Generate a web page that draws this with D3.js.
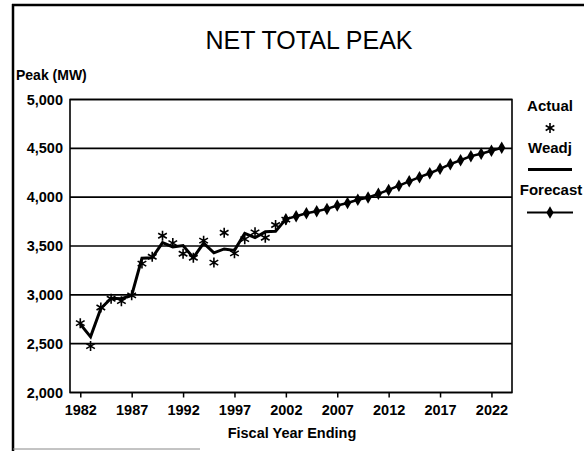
<!DOCTYPE html>
<html>
<head>
<meta charset="utf-8">
<script src="https://cdn.jsdelivr.net/npm/d3@7"></script>
<style>
  body { margin: 0; background: #fff; }
  text { font-family: "Liberation Sans", Arial, sans-serif; fill: #000; }
</style>
</head>
<body>
<div id="chartContainer"></div>
<script>
// weather adjusted history
let weadjYears = [1982, 1983, 1984, 1985, 1986, 1987, 1988, 1989, 1990, 1991, 1992,
	1993, 1994, 1995, 1996, 1997, 1998, 1999, 2000, 2001, 2002];
let weadjPeak = [2700, 2570, 2860, 2965, 2960, 2995, 3375, 3380, 3535, 3490, 3505,
	3380, 3530, 3430, 3470, 3455, 3630, 3585, 3645, 3650, 3775];

// actual peaks (asterisks)
let actualYears = weadjYears;
let actualPeak = [2710, 2475, 2870, 2960, 2935, 2995, 3320, 3390, 3605, 3530, 3420,
	3380, 3555, 3330, 3635, 3425, 3570, 3640, 3585, 3715, 3770];

// forecast
let forecastYears = [2002, 2003, 2004, 2005, 2006, 2007, 2008, 2009, 2010, 2011, 2012,
	2013, 2014, 2015, 2016, 2017, 2018, 2019, 2020, 2021, 2022, 2023];
let forecastPeak = [3775, 3805, 3835, 3855, 3880, 3915, 3940, 3973, 3997, 4034, 4074,
	4118, 4162, 4205, 4245, 4290, 4338, 4378, 4420, 4445, 4476, 4505];

let yTicks = [2000, 2500, 3000, 3500, 4000, 4500, 5000];
let xTicks = [1982, 1987, 1992, 1997, 2002, 2007, 2012, 2017, 2022];

function drawChart(){

	let svg = d3.select("#chartContainer")
		.append("svg")
		.attr("width", 584)
		.attr("height", 451);

	// scanned page frame
	svg.append("line").attr("x1", 13).attr("x2", 13).attr("y1", 4).attr("y2", 451)
		.attr("stroke", "#000").attr("stroke-width", 2.5);
	svg.append("line").attr("x1", 12).attr("x2", 584).attr("y1", 5).attr("y2", 5)
		.attr("stroke", "#000").attr("stroke-width", 2.5);
	svg.append("line").attr("x1", 13).attr("x2", 200).attr("y1", 449).attr("y2", 449)
		.attr("stroke", "#888").attr("stroke-width", 1);

	let x = d3.scaleLinear().domain([1981, 2024]).range([70, 512]);
	let y = d3.scaleLinear().domain([2000, 5000]).range([392.5, 99.5]);

	svg.append("text")
		.attr("x", 309).attr("y", 49)
		.attr("text-anchor", "middle")
		.style("font-size", "25px")
		.text("NET TOTAL PEAK");

	svg.append("text")
		.attr("x", 16).attr("y", 80)
		.style("font-size", "14px").style("font-weight", "bold")
		.text("Peak (MW)");

	// gridlines
	svg.append("g")
		.selectAll("line")
		.data(yTicks)
		.join("line")
		.attr("x1", 70).attr("x2", 512)
		.attr("y1", d => y(d)).attr("y2", d => y(d))
		.attr("stroke", "#000").attr("stroke-width", 1.6);

	svg.append("rect")
		.attr("x", 70).attr("y", 99.5)
		.attr("width", 442).attr("height", 293)
		.attr("fill", "none").attr("stroke", "#000").attr("stroke-width", 1.6);

	// y labels
	svg.append("g")
		.selectAll("text")
		.data(yTicks)
		.join("text")
		.attr("x", 63).attr("y", d => y(d) + 5)
		.attr("text-anchor", "end")
		.style("font-size", "14.5px").style("font-weight", "bold")
		.text(d => d3.format(",")(d));

	// x axis
	let xAxis = svg.append("g")
		.attr("transform", "translate(0, 392.5)")
		.call(d3.axisBottom(x).tickValues(xTicks).tickFormat(d3.format("d")).tickSize(5).tickSizeOuter(0));
	xAxis.select(".domain").remove();
	xAxis.selectAll(".tick line").attr("stroke-width", 1.5);
	xAxis.selectAll(".tick text")
		.attr("y", 12)
		.style("font-size", "14.5px").style("font-weight", "bold")
		.style("font-family", "'Liberation Sans', Arial, sans-serif");

	svg.append("text")
		.attr("x", 292).attr("y", 438)
		.attr("text-anchor", "middle")
		.style("font-size", "14.5px").style("font-weight", "bold")
		.text("Fiscal Year Ending");

	let line = d3.line().x(d => x(d[0])).y(d => y(d[1]));

	// weadj
	svg.append("path")
		.datum(d3.zip(weadjYears, weadjPeak))
		.attr("d", line)
		.attr("fill", "none").attr("stroke", "#000")
		.attr("stroke-width", 3).attr("stroke-linejoin", "miter");

	// forecast
	svg.append("path")
		.datum(d3.zip(forecastYears, forecastPeak))
		.attr("d", line)
		.attr("fill", "none").attr("stroke", "#000").attr("stroke-width", 2.5);

	let diamond = d3.symbol(d3.symbolDiamond, 45);
	svg.append("g")
		.selectAll("path")
		.data(d3.zip(forecastYears, forecastPeak))
		.join("path")
		.attr("transform", d => `translate(${x(d[0])},${y(d[1])})`)
		.attr("d", diamond)
		.attr("fill", "#000");

	// actual asterisks
	let star = d3.symbol(d3.symbolAsterisk, 70);
	svg.append("g")
		.selectAll("path")
		.data(d3.zip(actualYears, actualPeak))
		.join("path")
		.attr("transform", d => `translate(${x(d[0])},${y(d[1])})`)
		.attr("d", star)
		.attr("fill", "none").attr("stroke", "#000").attr("stroke-width", 1.6);

	// legend
	let lx = 550;
	let legend = svg.append("g");
	legend.append("text").attr("x", lx).attr("y", 110.5).attr("text-anchor", "middle")
		.style("font-size", "15px").style("font-weight", "bold").text("Actual");
	legend.append("path").attr("transform", `translate(${lx},128)`)
		.attr("d", star).attr("fill", "none").attr("stroke", "#000").attr("stroke-width", 1.6);
	legend.append("text").attr("x", lx).attr("y", 153).attr("text-anchor", "middle")
		.style("font-size", "15px").style("font-weight", "bold").text("Weadj");
	legend.append("line").attr("x1", 528).attr("x2", 572).attr("y1", 169.5).attr("y2", 169.5)
		.attr("stroke", "#000").attr("stroke-width", 3);
	legend.append("text").attr("x", lx + 1).attr("y", 194.5).attr("text-anchor", "middle")
		.style("font-size", "15px").style("font-weight", "bold").text("Forecast");
	legend.append("line").attr("x1", 527).attr("x2", 573).attr("y1", 212.5).attr("y2", 212.5)
		.attr("stroke", "#000").attr("stroke-width", 2);
	legend.append("path").attr("transform", `translate(${lx},212.5)`)
		.attr("d", diamond).attr("fill", "#000");
}

drawChart();
</script>
</body>
</html>
